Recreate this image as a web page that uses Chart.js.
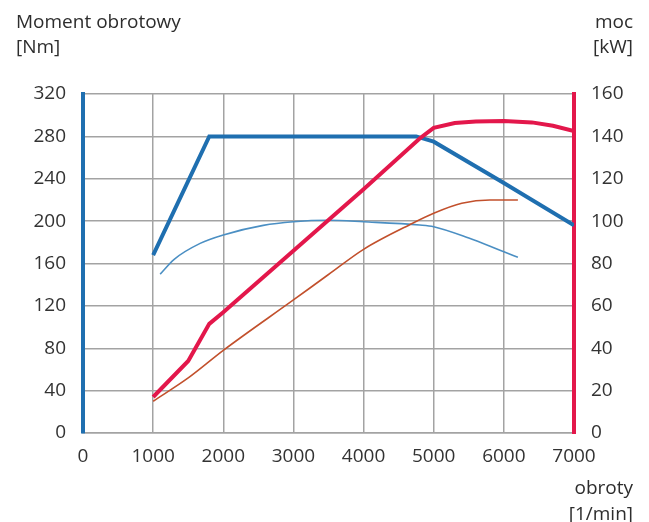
<!DOCTYPE html>
<html>
<head>
<meta charset="utf-8">
<script src="https://cdn.jsdelivr.net/npm/chart.js@4"></script>
<style>
  html, body { margin: 0; padding: 0; background: #fff; }
  #wrap { width: 649px; height: 522px; }
</style>
</head>
<body>
<div id="wrap"><canvas id="engineChart" width="649" height="522"></canvas></div>
<script>
// obroty [1/min] i wartości
const torqueMaxRpm = [1000, 1800, 4750, 5000, 6000, 7000];
const torqueMax = [168, 280, 280, 275, 236, 196]; // Nm

const powerMaxRpm = [1000, 1500, 1800, 2000, 3000, 4000, 4800, 5000, 5300, 5600, 6000, 6400, 6700, 7000];
const powerMax = [17, 34, 51.5, 57, 86, 115, 139, 144, 146.3, 147, 147.2, 146.6, 145, 142.5]; // kW

const torqueRpm = [1100, 1300, 1670, 2000, 2570, 3000, 3500, 4000, 4800, 5000, 5500, 6000, 6200];
const torque = [150, 164, 179, 187, 196, 199.4, 200.8, 199.4, 196.3, 194.7, 184, 171, 166]; // Nm

const powerRpm = [1000, 1500, 2000, 3000, 3500, 4000, 4700, 5000, 5400, 5800, 6200];
const power = [15, 26, 39, 62.8, 74.8, 86.7, 99, 103.7, 108.4, 110, 110]; // kW

const rpmTicks = [0, 1000, 2000, 3000, 4000, 5000, 6000, 7000];

const toPoints = (xs, ys) => xs.map((x, i) => ({ x: x, y: ys[i] }));

const FONT = '"Open Sans", Arial, sans-serif';
const GRID = '#a3a3a3';

// podpisy osi
const axisTitles = {
    id: 'axisTitles',
    afterDraw(chart) {
        const c = chart.ctx;
        c.save();
        c.fillStyle = '#2d2d2d';
        c.font = '19px ' + FONT;
        c.textBaseline = 'alphabetic';
        c.textAlign = 'left';
        c.fillText('Moment obrotowy', 16, 28);
        c.fillText('[Nm]', 16, 53);
        c.textAlign = 'right';
        c.fillText('moc', 633, 28);
        c.fillText('[kW]', 633, 53);
        c.fillText('obroty', 633, 494);
        c.fillText('[1/min]', 633, 520);
        c.restore();
    }
};

const ctx = document.getElementById('engineChart').getContext('2d');
const engineChart = new Chart(ctx, {
    type: 'line',
    data: {
        datasets: [
            {
                label: 'moc max',
                data: toPoints(powerMaxRpm, powerMax),
                yAxisID: 'yP',
                borderColor: '#e3174b',
                borderWidth: 4,
                tension: 0,
                pointRadius: 0,
                fill: false,
            },
            {
                label: 'moment max',
                data: toPoints(torqueMaxRpm, torqueMax),
                yAxisID: 'yT',
                borderColor: '#1f6fb0',
                borderWidth: 4,
                tension: 0,
                pointRadius: 0,
                fill: false,
            },
            {
                label: 'moc',
                data: toPoints(powerRpm, power),
                yAxisID: 'yP',
                borderColor: '#c2502c',
                borderWidth: 1.6,
                cubicInterpolationMode: 'monotone',
                pointRadius: 0,
                fill: false,
            },
            {
                label: 'moment',
                data: toPoints(torqueRpm, torque),
                yAxisID: 'yT',
                borderColor: '#4b8fc3',
                borderWidth: 1.6,
                cubicInterpolationMode: 'monotone',
                pointRadius: 0,
                fill: false,
            },
        ],
    },
    options: {
        responsive: false,
        animation: false,
        layout: { padding: { top: 94, left: 0, right: 0, bottom: 0 } },
        plugins: { legend: { display: false }, tooltip: { enabled: false } },
        scales: {
            x: {
                type: 'linear',
                min: 0,
                max: 7000,
                afterBuildTicks: (s) => { s.ticks = rpmTicks.map(v => ({ value: v })); },
                afterFit: (s) => { s.height = 89; },
                grid: { color: GRID, lineWidth: 1.5, drawTicks: false },
                border: { color: GRID, width: 1.5 },
                ticks: {
                    color: '#333',
                    font: { family: FONT, size: 19 },
                    padding: 12,
                    maxRotation: 0,
                    callback: (v) => String(v),
                },
            },
            yT: {
                position: 'left',
                min: 0,
                max: 320,
                ticks: { stepSize: 40, color: '#333', font: { family: FONT, size: 19 }, padding: 17 },
                afterFit: (s) => { s.width = 83; },
                grid: { color: GRID, lineWidth: 1.5, drawTicks: false },
                border: { color: '#1f6fb0', width: 4 },
            },
            yP: {
                position: 'right',
                min: 0,
                max: 160,
                ticks: { stepSize: 20, color: '#333', font: { family: FONT, size: 19 }, padding: 17 },
                afterFit: (s) => { s.width = 75; },
                grid: { display: false, drawTicks: false },
                border: { color: '#e3174b', width: 4 },
            },
        },
    },
    plugins: [axisTitles],
});
</script>
</body>
</html>
